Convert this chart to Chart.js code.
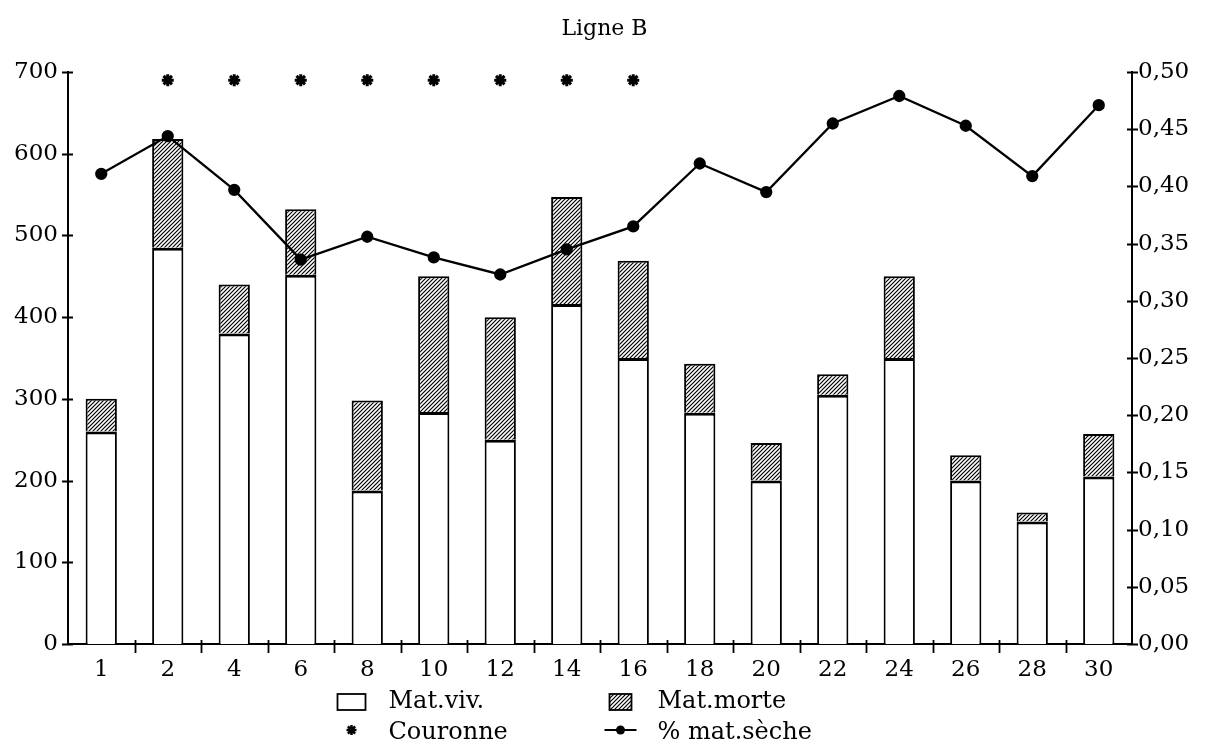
<!DOCTYPE html>
<html>
<head>
<meta charset="utf-8">
<script src="https://cdn.jsdelivr.net/npm/chart.js@4/dist/chart.umd.min.js"></script>
<style>
  html, body { margin: 0; padding: 0; background: #fff; }
  canvas { display: block; }
</style>
</head>
<body>
<canvas id="c" width="1209" height="745"></canvas>
<script>
// Sampling dates along line B
const categories = ['1', '2', '4', '6', '8', '10', '12', '14', '16', '18', '20', '22', '24', '26', '28', '30'];
// Living matter
const matViv = [260, 485, 380, 452, 188, 284, 250, 416, 350, 283, 200, 305, 350, 200, 150, 205];
// Dead matter (stacked on top of living matter)
const matMorte = [40, 133, 60, 80, 110, 166, 150, 131, 119, 60, 46, 25, 100, 31, 11, 52];
// Crown stage markers
const couronne = [null, 690, 690, 690, 690, 690, 690, 690, 690, null, null, null, null, null, null, null];
// Dry matter ratio (right axis)
const matSeche = [0.411, 0.444, 0.397, 0.336, 0.356, 0.338, 0.323, 0.345, 0.365, 0.420, 0.395, 0.455, 0.479, 0.453, 0.409, 0.471];

const seriesLabels = ['Mat.viv.', 'Mat.morte', 'Couronne', '% mat.sèche'];
const titleText = 'Ligne B';

const FONT = "'DejaVu Serif', 'Liberation Serif', serif";

// Diagonal hatch fill for dead matter
function makeHatch() {
  const s = 4;
  const c = document.createElement('canvas');
  c.width = s; c.height = s;
  const g = c.getContext('2d');
  g.fillStyle = '#fff';
  g.fillRect(0, 0, s, s);
  g.strokeStyle = '#000';
  g.lineWidth = 1.2;
  g.beginPath();
  g.moveTo(0, s); g.lineTo(s, 0);
  g.moveTo(-1, 1); g.lineTo(1, -1);
  g.moveTo(s - 1, s + 1); g.lineTo(s + 1, s - 1);
  g.stroke();
  return c;
}
const hatchCanvas = makeHatch();
const ctx = document.getElementById('c').getContext('2d');
const hatch = ctx.createPattern(hatchCanvas, 'repeat');

// Short tick marks crossing each axis line
const crossTicks = {
  id: 'crossTicks',
  afterDraw(chart) {
    const g = chart.ctx;
    const { x, y, y1 } = chart.scales;
    g.save();
    g.strokeStyle = '#000';
    g.lineWidth = 1.8;
    g.beginPath();
    y.ticks.forEach(t => {
      const py = Math.round(y.getPixelForValue(t.value)) + 0.5;
      g.moveTo(y.right - 6, py); g.lineTo(y.right + 5, py);
    });
    y1.ticks.forEach(t => {
      const py = Math.round(y1.getPixelForValue(t.value)) + 0.5;
      g.moveTo(y1.left - 5, py); g.lineTo(y1.left + 6, py);
    });
    for (let i = 1; i < categories.length; i++) {
      const px = Math.round((x.getPixelForValue(i - 1) + x.getPixelForValue(i)) / 2) + 0.5;
      g.moveTo(px, x.top - 4); g.lineTo(px, x.top + 9);
    }
    g.stroke();
    g.restore();
  }
};

// Two-column legend below the axis
const gridLegend = {
  id: 'gridLegend',
  afterDraw(chart) {
    const g = chart.ctx;
    const cx = chart.width / 2;
    const col1 = cx - 253, col2 = cx + 16;
    const row1 = 702, row2 = 733;
    const textOff = 37;
    g.save();
    g.font = '24px ' + FONT;
    g.fillStyle = '#000';
    g.textBaseline = 'middle';
    g.textAlign = 'left';

    // Mat.viv.
    g.fillStyle = '#fff';
    g.fillRect(col1 - 14, row1 - 8, 28, 16);
    g.strokeStyle = '#000';
    g.lineWidth = 1.8;
    g.strokeRect(col1 - 14, row1 - 8, 28, 16);
    g.fillStyle = '#000';
    g.fillText(seriesLabels[0], col1 + textOff, row1);

    // Mat.morte
    g.fillStyle = hatch;
    g.fillRect(col2 - 11, row1 - 8, 22, 16);
    g.strokeRect(col2 - 11, row1 - 8, 22, 16);
    g.fillStyle = '#000';
    g.fillText(seriesLabels[1], col2 + textOff, row1);

    // Couronne
    const ax = col1, ay = row2 - 3, r = 5;
    g.lineWidth = 2.5;
    g.beginPath();
    g.moveTo(ax - r, ay); g.lineTo(ax + r, ay);
    g.moveTo(ax, ay - r); g.lineTo(ax, ay + r);
    const d = r * 0.72;
    g.moveTo(ax - d, ay - d); g.lineTo(ax + d, ay + d);
    g.moveTo(ax - d, ay + d); g.lineTo(ax + d, ay - d);
    g.stroke();
    g.fillText(seriesLabels[2], col1 + textOff, row2);

    // % mat.sèche
    g.lineWidth = 2.2;
    g.beginPath();
    g.moveTo(col2 - 16, row2 - 3); g.lineTo(col2 + 16, row2 - 3);
    g.stroke();
    g.beginPath();
    g.arc(col2, row2 - 3, 4.5, 0, Math.PI * 2);
    g.fill();
    g.fillText(seriesLabels[3], col2 + textOff, row2);
    g.restore();
  }
};

Chart.defaults.font.family = FONT;
Chart.defaults.color = '#000';

new Chart(ctx, {
  data: {
    labels: categories,
    datasets: [
      {
        type: 'line',
        label: seriesLabels[3],
        data: matSeche,
        yAxisID: 'y1',
        borderColor: '#000',
        backgroundColor: '#000',
        borderWidth: 2.3,
        pointRadius: 5,
        pointBackgroundColor: '#000',
        pointBorderColor: '#000',
        tension: 0,
        order: 0
      },
      {
        type: 'line',
        label: seriesLabels[2],
        data: couronne,
        yAxisID: 'y',
        stack: 'cour',
        showLine: false,
        pointStyle: 'star',
        pointRadius: 6,
        borderWidth: 3,
        borderColor: '#000',
        backgroundColor: '#000',
        order: 0
      },
      {
        type: 'bar',
        label: seriesLabels[0],
        data: matViv,
        yAxisID: 'y',
        stack: 'mat',
        backgroundColor: '#fff',
        borderColor: '#000',
        borderWidth: { top: 3, left: 2, right: 2, bottom: 0 },
        borderSkipped: false,
        categoryPercentage: 1.0,
        barPercentage: 0.47,
        order: 1
      },
      {
        type: 'bar',
        label: seriesLabels[1],
        data: matMorte,
        yAxisID: 'y',
        stack: 'mat',
        backgroundColor: hatch,
        borderColor: '#000',
        borderWidth: { top: 2, left: 2, right: 2, bottom: 0 },
        borderSkipped: false,
        categoryPercentage: 1.0,
        barPercentage: 0.47,
        order: 1
      }
    ]
  },
  options: {
    responsive: false,
    animation: false,
    devicePixelRatio: 1,
    layout: { padding: { top: 0, left: 0, right: 0, bottom: 67 } },
    plugins: {
      legend: { display: false },
      tooltip: { enabled: false },
      title: {
        display: true,
        text: titleText,
        font: { family: FONT, size: 22, weight: 'normal' },
        color: '#000',
        padding: { top: 16, bottom: 29.6 }
      }
    },
    scales: {
      x: {
        stacked: true,
        offset: true,
        grid: { display: false, drawTicks: false },
        border: { display: true, color: '#000', width: 2 },
        ticks: { font: { size: 23 }, color: '#000', padding: 12, maxRotation: 0, autoSkip: false },
        afterFit(s) { s.height = 34; }
      },
      y: {
        position: 'left',
        stacked: true,
        min: 0,
        max: 700,
        grid: { display: false, drawTicks: false },
        border: { display: true, color: '#000', width: 2 },
        ticks: { stepSize: 100, font: { size: 23 }, color: '#000', padding: 10 },
        afterFit(s) { s.width = 68; }
      },
      y1: {
        position: 'right',
        min: 0,
        max: 0.5,
        grid: { display: false, drawTicks: false },
        border: { display: true, color: '#000', width: 2 },
        ticks: {
          stepSize: 0.05,
          font: { size: 23 },
          color: '#000',
          padding: 6,
          callback: v => Number(v).toFixed(2).replace('.', ',')
        },
        afterFit(s) { s.width = 77; }
      }
    }
  },
  plugins: [crossTicks, gridLegend]
});
</script>
</body>
</html>
